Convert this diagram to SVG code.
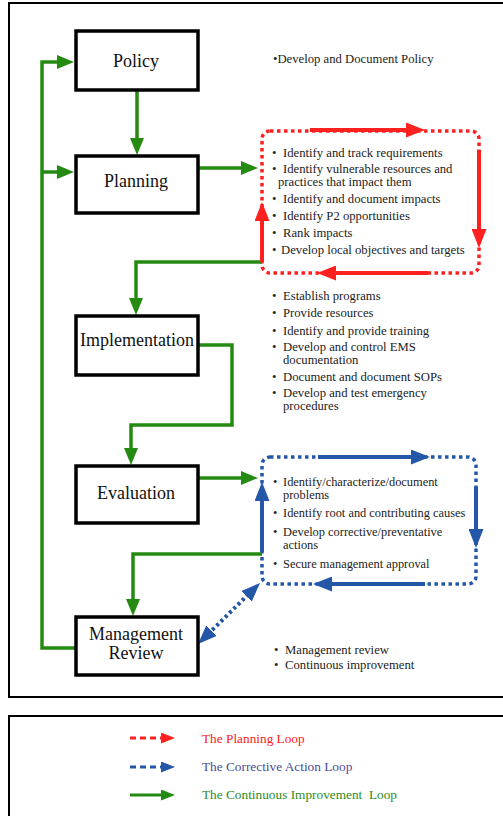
<svg xmlns="http://www.w3.org/2000/svg" width="503" height="816" viewBox="0 0 503 816">
<defs>
<style>
.frame{fill:none;stroke:#000;stroke-width:2}
.box{fill:#fff;stroke:#000;stroke-width:3.5}
.lbl{font-family:"Liberation Serif","Times New Roman",serif;font-size:18px;fill:#111;text-anchor:middle}
.bt{font-family:"Liberation Serif","Times New Roman",serif;font-size:12.7px;fill:#222}
.bs{font-size:12.4px}
.g{fill:none;stroke:#248a12;stroke-width:3.5}
.r{fill:none;stroke:#ff2020;stroke-width:4}
.rd{fill:none;stroke:#ff2020;stroke-width:3.5;stroke-dasharray:3.5 3.5}
.b{fill:none;stroke:#2457a7;stroke-width:4}
.bd{fill:none;stroke:#2457a7;stroke-width:3.5;stroke-dasharray:3.5 3.5}
.lg{font-family:"Liberation Serif","Times New Roman",serif;font-size:13.3px}
</style>
<marker id="ag" markerUnits="userSpaceOnUse" markerWidth="17" markerHeight="14" refX="9" refY="7" orient="auto"><path d="M0,0 L17,7 L0,14 z" fill="#248a12"/></marker>
<marker id="ar" markerUnits="userSpaceOnUse" markerWidth="19" markerHeight="15" refX="11" refY="7.5" orient="auto"><path d="M0,0 L19,7.5 L0,15 z" fill="#ff2020"/></marker>
<marker id="ab" markerUnits="userSpaceOnUse" markerWidth="19" markerHeight="15" refX="11" refY="7.5" orient="auto"><path d="M0,0 L19,7.5 L0,15 z" fill="#2457a7"/></marker>
<marker id="abs" markerUnits="userSpaceOnUse" markerWidth="19" markerHeight="15" refX="8" refY="7.5" orient="auto"><path d="M19,0 L0,7.5 L19,15 z" fill="#2457a7"/></marker>
<marker id="lr" markerUnits="userSpaceOnUse" markerWidth="14" markerHeight="11" refX="1" refY="5.5" orient="auto"><path d="M0,0 L14,5.5 L0,11 z" fill="#ff2020"/></marker>
<marker id="lb" markerUnits="userSpaceOnUse" markerWidth="14" markerHeight="11" refX="1" refY="5.5" orient="auto"><path d="M0,0 L14,5.5 L0,11 z" fill="#2457a7"/></marker>
<marker id="lgm" markerUnits="userSpaceOnUse" markerWidth="14" markerHeight="11" refX="1" refY="5.5" orient="auto"><path d="M0,0 L14,5.5 L0,11 z" fill="#248a12"/></marker>
</defs>

<rect class="frame" x="9" y="3" width="500" height="694"/>
<rect class="frame" x="9" y="716" width="500" height="110"/>

<g id="loops">
<rect class="rd" x="262" y="131" width="217" height="142" rx="8"/>
<rect class="bd" x="262" y="457" width="214" height="127" rx="8"/>
</g>

<g id="connectors">
<path class="g" d="M76,648 H42 V62 H66" marker-end="url(#ag)"/>
<path class="g" d="M42,172 H66" marker-end="url(#ag)"/>
<path class="g" d="M137,90 V147" marker-end="url(#ag)"/>
<path class="g" d="M198,168 H250" marker-end="url(#ag)"/>
<path class="g" d="M262,262 H136 V307" marker-end="url(#ag)"/>
<path class="g" d="M198,345 H232 V425 H131 V457" marker-end="url(#ag)"/>
<path class="g" d="M198,478 H250" marker-end="url(#ag)"/>
<path class="g" d="M262,554 H133 V608" marker-end="url(#ag)"/>

<path class="r" d="M310,130 H417" marker-end="url(#ar)"/>
<path class="r" d="M479,150 V240" marker-end="url(#ar)"/>
<path class="r" d="M428,273 H325" marker-end="url(#ar)"/>
<path class="r" d="M262,262 V210" marker-end="url(#ar)"/>

<path class="b" d="M318,457 H422" marker-end="url(#ab)"/>
<path class="b" d="M476,487 V540" marker-end="url(#ab)"/>
<path class="b" d="M425,584 H321" marker-end="url(#ab)"/>
<path class="b" d="M262,552 V490" marker-end="url(#ab)"/>
<path d="M203.7,638.4 L254.3,588.6" fill="none" stroke="#2457a7" stroke-width="4" stroke-dasharray="3 3" marker-start="url(#abs)" marker-end="url(#ab)"/>
</g>

<g id="policy">
<rect class="box" x="76" y="31" width="122" height="59"/>
<text class="lbl" x="136" y="67">Policy</text>
</g>
<g id="planning">
<rect class="box" x="76" y="156" width="122" height="57"/>
<text class="lbl" x="136" y="187">Planning</text>
</g>
<g id="implementation">
<rect class="box" x="76" y="316" width="122" height="59"/>
<text class="lbl" x="137" y="346">Implementation</text>
</g>
<g id="evaluation">
<rect class="box" x="76" y="466" width="122" height="57"/>
<text class="lbl" x="136" y="499">Evaluation</text>
</g>
<g id="management-review">
<rect class="box" x="76" y="617" width="122" height="58"/>
<text class="lbl" x="136" y="640">Management</text>
<text class="lbl" x="136" y="659">Review</text>
</g>

<g id="policy-notes">
<text class="bt" x="273" y="63">•Develop and Document Policy</text>
</g>

<g id="planning-notes" class="bt">
<text x="272" y="157">•</text><text x="283" y="157">Identify and track requirements</text>
<text x="272" y="173">•</text><text x="283" y="173">Identify vulnerable resources and</text>
<text x="278" y="186">practices that impact them</text>
<text x="272" y="203">•</text><text x="283" y="203">Identify and document impacts</text>
<text x="272" y="220">•</text><text x="283" y="220">Identify P2 opportunities</text>
<text x="272" y="237">•</text><text x="283" y="237">Rank impacts</text>
<text x="272" y="254">•</text><text x="281" y="254">Develop local objectives and targets</text>
</g>

<g id="implementation-notes" class="bt">
<text x="272" y="300">•</text><text x="283" y="300">Establish programs</text>
<text x="272" y="317">•</text><text x="283" y="317">Provide resources</text>
<text x="272" y="335">•</text><text x="283" y="335">Identify and provide training</text>
<text x="272" y="351">•</text><text x="283" y="351">Develop and control EMS</text>
<text x="283" y="364">documentation</text>
<text x="272" y="381">•</text><text x="283" y="381">Document and document SOPs</text>
<text x="272" y="397">•</text><text x="283" y="397">Develop and test emergency</text>
<text x="283" y="410">procedures</text>
</g>

<g id="evaluation-notes" class="bt bs">
<text x="273" y="486">•</text><text x="283" y="486">Identify/characterize/document</text>
<text x="283" y="498.5">problems</text>
<text x="273" y="517">•</text><text x="283" y="517">Identify root and contributing causes</text>
<text x="273" y="536">•</text><text x="283" y="536">Develop corrective/preventative</text>
<text x="283" y="548.5">actions</text>
<text x="273" y="568">•</text><text x="283" y="568">Secure management approval</text>
</g>

<g id="review-notes" class="bt">
<text x="274" y="654">•</text><text x="285" y="654">Management review</text>
<text x="274" y="669">•</text><text x="285" y="669">Continuous improvement</text>
</g>

<g id="legend">
<path d="M130,738 H162" fill="none" stroke="#ff2020" stroke-width="3" stroke-dasharray="6 4" marker-end="url(#lr)"/>
<text class="lg" x="202" y="743" fill="#ff2020">The Planning Loop</text>
<path d="M130,767 H162" fill="none" stroke="#2457a7" stroke-width="3" stroke-dasharray="6 4" marker-end="url(#lb)"/>
<text class="lg" x="202" y="771" fill="#4a4a99">The Corrective Action Loop</text>
<path d="M130,795 H162" fill="none" stroke="#248a12" stroke-width="3"  marker-end="url(#lgm)"/>
<text class="lg" x="202" y="799" fill="#2e8b1e" xml:space="preserve">The Continuous Improvement  Loop</text>
</g>
</svg>
